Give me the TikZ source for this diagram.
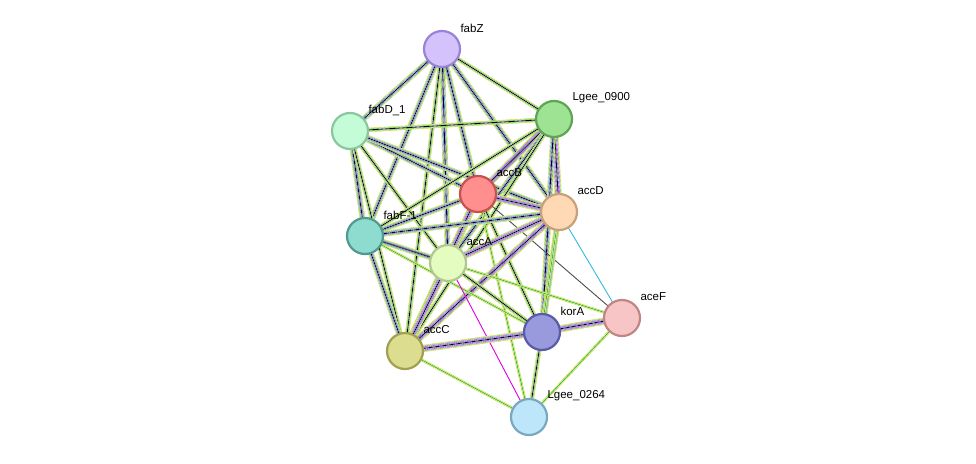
\documentclass[tikz,border=0pt]{standalone}
\usepackage{fontspec}
\setmainfont{Liberation Sans}
\begin{document}
\begin{tikzpicture}[x=1pt,y=-1pt,
  nd/.style={circle,draw,line width=2.2pt,minimum size=36pt,inner sep=0pt},
  lb/.style={font=\fontsize{11.5}{12}\selectfont,anchor=west}]
\useasboundingbox (0,0) rectangle (976,463);
\definecolor{ty}{HTML}{C8D400}\definecolor{gr}{HTML}{33BB33}
\definecolor{bl}{HTML}{3333EE}\definecolor{mg}{HTML}{DD00DD}
\definecolor{cy}{HTML}{33BBDD}
\newcommand\Eone[2]{\draw[ty,line width=2.6pt](#1)--(#2);\draw[white,line width=1.6pt](#1)--(#2);\draw[gr,line width=0.8pt](#1)--(#2);}
\newcommand\Etwo[2]{\draw[ty,line width=4.2pt](#1)--(#2);\draw[white,line width=3.3pt](#1)--(#2);\draw[gr,line width=2.5pt](#1)--(#2);\draw[white,line width=1.6pt](#1)--(#2);\draw[black,line width=0.8pt](#1)--(#2);}
\newcommand\Ethree[2]{\draw[ty,line width=5.6pt](#1)--(#2);\draw[white,line width=4.8pt](#1)--(#2);\draw[gr,line width=4pt](#1)--(#2);\draw[white,line width=3.2pt](#1)--(#2);\draw[bl,line width=2.4pt](#1)--(#2);\draw[white,line width=1.6pt](#1)--(#2);\draw[black,line width=0.8pt](#1)--(#2);}
\newcommand\Efour[2]{\draw[ty,line width=7pt](#1)--(#2);\draw[white,line width=6.2pt](#1)--(#2);\draw[gr,line width=5.4pt](#1)--(#2);\draw[white,line width=4.6pt](#1)--(#2);\draw[mg,line width=3.8pt](#1)--(#2);\draw[white,line width=3pt](#1)--(#2);\draw[bl,line width=2.3pt](#1)--(#2);\draw[white,line width=1.5pt](#1)--(#2);\draw[black,line width=0.8pt](#1)--(#2);}
\newcommand\Ecy[2]{\draw[cy,line width=0.9pt](#1)--(#2);}
\newcommand\Emg[2]{\draw[mg,line width=0.9pt](#1)--(#2);}
\newcommand\Ebk[2]{\draw[black!70,line width=0.9pt](#1)--(#2);}
\coordinate (fabZ) at (442,49);
\coordinate (L900) at (554,119);
\coordinate (fabD) at (350,131);
\coordinate (accB) at (478,194);
\coordinate (accD) at (559,212);
\coordinate (fabF) at (365,236);
\coordinate (accA) at (448,263);
\coordinate (aceF) at (622,318);
\coordinate (korA) at (542,332);
\coordinate (accC) at (405,351);
\coordinate (L264) at (529,417);
% edges
\Ethree{fabZ}{fabD}\Ethree{fabZ}{accB}\Ethree{fabZ}{fabF}\Ethree{fabZ}{accA}\Etwo{fabZ}{L900}\Ethree{fabZ}{accD}\Etwo{fabZ}{accC}
\Etwo{fabD}{L900}\Ethree{fabD}{accB}\Ethree{fabD}{accD}\Ethree{fabD}{fabF}\Etwo{fabD}{accA}\Etwo{fabD}{accC}
\Efour{L900}{accB}\Efour{L900}{accD}\Ethree{L900}{accA}\Etwo{L900}{fabF}\Ethree{L900}{korA}\Etwo{L900}{accC}
\Efour{accB}{accD}\Efour{accB}{accA}\Ethree{accB}{fabF}\Efour{accB}{accC}\Etwo{accB}{korA}\Eone{accB}{L264}\Ebk{accB}{aceF}
\Efour{accD}{accA}\Ethree{accD}{fabF}\Efour{accD}{accC}\Ethree{accD}{korA}\Eone{accD}{L264}\Ecy{accD}{aceF}
\Ethree{fabF}{accA}\Ethree{fabF}{accC}\Eone{fabF}{korA}\Ebk{fabF}{aceF}
\Efour{accA}{accC}\Etwo{accA}{korA}\Emg{accA}{L264}\Eone{accA}{aceF}
\Efour{accC}{korA}\Eone{accC}{L264}
\Etwo{korA}{L264}\Efour{korA}{aceF}\Eone{aceF}{L264}
% nodes
\node[nd,fill={rgb,255:red,212;green,194;blue,252},draw={rgb,255:red,154;green,131;blue,214}] (nfabZ) at (fabZ) {};
\node[nd,fill={rgb,255:red,158;green,227;blue,147},draw={rgb,255:red,95;green,164;blue,85}] (nL900) at (L900) {};
\node[nd,fill={rgb,255:red,196;green,252;blue,215},draw={rgb,255:red,138;green,199;blue,158}] (nfabD) at (fabD) {};
\node[nd,fill={rgb,255:red,255;green,143;blue,143},draw={rgb,255:red,200;green,80;blue,80}] (naccB) at (accB) {};
\node[nd,fill={rgb,255:red,255;green,217;blue,179},draw={rgb,255:red,200;green,160;blue,122}] (naccD) at (accD) {};
\node[nd,fill={rgb,255:red,142;green,219;blue,208},draw={rgb,255:red,79;green,153;blue,144}] (nfabF) at (fabF) {};
\node[nd,fill={rgb,255:red,228;green,252;blue,192},draw={rgb,255:red,176;green,200;blue,144}] (naccA) at (accA) {};
\node[nd,fill={rgb,255:red,247;green,197;blue,197},draw={rgb,255:red,192;green,133;blue,133}] (naceF) at (aceF) {};
\node[nd,fill={rgb,255:red,153;green,153;blue,221},draw={rgb,255:red,90;green,90;blue,168}] (nkorA) at (korA) {};
\node[nd,fill={rgb,255:red,221;green,221;blue,144},draw={rgb,255:red,160;green,160;blue,80}] (naccC) at (accC) {};
\node[nd,fill={rgb,255:red,189;green,230;blue,251},draw={rgb,255:red,122;green,168;blue,192}] (nL264) at (L264) {};
% labels
\node[lb] (tfabZ) at (457,28) {fabZ};
\node[lb] (tL900) at (569,98) {Lgee\_0900};
\node[lb] (tfabD) at (365,110) {fabD\_1};
\node[lb] (taccB) at (493,173) {accB};
\node[lb] (taccD) at (574,191) {accD};
\node[lb] (tfabF) at (380,215) {fabF-1};
\node[lb] (taccA) at (463,242) {accA};
\node[lb] (taceF) at (637,297) {aceF};
\node[lb] (tkorA) at (557,311) {korA};
\node[lb] (taccC) at (420,330) {accC};
\node[lb] (tL264) at (544,396) {Lgee\_0264};
\end{tikzpicture}
\end{document}
